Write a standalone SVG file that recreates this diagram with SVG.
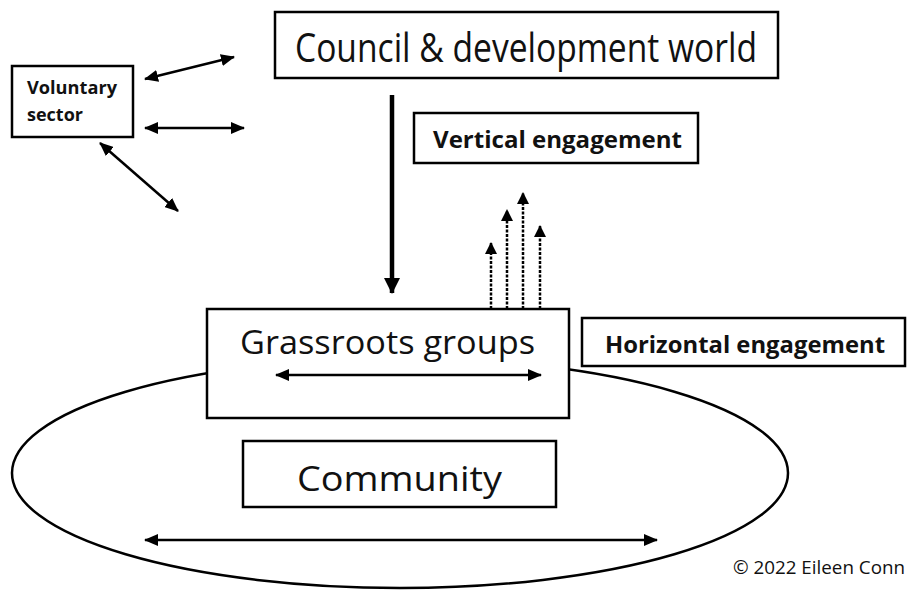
<svg xmlns="http://www.w3.org/2000/svg" width="913" height="590" viewBox="0 0 913 590">
<style>
.box{fill:#fff;stroke:#000;stroke-width:2.5}
.t{font-family:"Open Sans","Liberation Sans",sans-serif;fill:#111}
.b{font-weight:bold}
.arr{fill:none;stroke:#000;stroke-width:2.5}
.dot{fill:none;stroke:#000;stroke-width:2.5;stroke-dasharray:3 1.5}
</style>
<defs>
<marker id="ah" markerUnits="userSpaceOnUse" markerWidth="14" markerHeight="12" refX="13" refY="6" orient="auto-start-reverse" viewBox="0 0 14 12">
<path d="M0,0 L14,6 L0,12 Z" fill="#000"/>
</marker>
<marker id="ahBig" markerUnits="userSpaceOnUse" markerWidth="16" markerHeight="16" refX="15" refY="8" orient="auto" viewBox="0 0 16 16">
<path d="M0,0 L16,8 L0,16 Z" fill="#000"/>
</marker>
<marker id="ahS" markerUnits="userSpaceOnUse" markerWidth="12" markerHeight="12" refX="11" refY="6" orient="auto" viewBox="0 0 12 12">
<path d="M0,0 L12,6 L0,12 Z" fill="#000"/>
</marker>
</defs>

<g id="community-ellipse">
<ellipse cx="400" cy="473" rx="388" ry="115" fill="none" stroke="#000" stroke-width="2.5"/>
</g>

<g id="council">
<rect class="box" x="275" y="12" width="503" height="66"/>
<text class="t" x="295" y="62" font-size="41" textLength="462" lengthAdjust="spacingAndGlyphs">Council &amp; development world</text>
</g>

<g id="voluntary">
<rect class="box" x="12" y="66" width="121" height="71"/>
<text class="t b" x="27" y="94" font-size="17" textLength="90" lengthAdjust="spacingAndGlyphs">Voluntary</text>
<text class="t b" x="27" y="121" font-size="17" textLength="56" lengthAdjust="spacingAndGlyphs">sector</text>
</g>

<g id="vertical">
<rect class="box" x="414" y="113" width="284" height="50"/>
<text class="t b" x="433" y="148" font-size="23" textLength="249" lengthAdjust="spacingAndGlyphs">Vertical engagement</text>
</g>

<g id="grassroots">
<rect class="box" x="207" y="309" width="362" height="109"/>
<text class="t" x="240" y="354" font-size="32" textLength="295" lengthAdjust="spacingAndGlyphs">Grassroots groups</text>
</g>

<g id="horizontal">
<rect class="box" x="582" y="318" width="323" height="48"/>
<text class="t b" x="605" y="353" font-size="23" textLength="280" lengthAdjust="spacingAndGlyphs">Horizontal engagement</text>
</g>

<g id="community">
<rect class="box" x="243" y="441" width="313" height="66"/>
<text class="t" x="297" y="491" font-size="35" textLength="205" lengthAdjust="spacingAndGlyphs">Community</text>
</g>

<g id="copyright">
<text class="t" x="733" y="574" font-size="19" textLength="172" lengthAdjust="spacingAndGlyphs">© 2022 Eileen Conn</text>
</g>

<g id="connectors">
<line class="arr" x1="145" y1="79" x2="234" y2="57" marker-start="url(#ah)" marker-end="url(#ah)"/>
<line class="arr" x1="145" y1="128" x2="244" y2="128" marker-start="url(#ah)" marker-end="url(#ah)"/>
<line class="arr" x1="100" y1="143" x2="178" y2="211" marker-start="url(#ah)" marker-end="url(#ah)"/>
<line x1="392" y1="95" x2="392" y2="293" stroke="#000" stroke-width="4.5" marker-end="url(#ahBig)"/>
<line class="dot" x1="491" y1="309" x2="491" y2="243" marker-end="url(#ahS)"/>
<line class="dot" x1="507" y1="309" x2="507" y2="210" marker-end="url(#ahS)"/>
<line class="dot" x1="523" y1="309" x2="523" y2="193" marker-end="url(#ahS)"/>
<line class="dot" x1="540" y1="309" x2="540" y2="226" marker-end="url(#ahS)"/>
<line class="arr" x1="276" y1="375" x2="541" y2="375" marker-start="url(#ah)" marker-end="url(#ah)"/>
<line class="arr" x1="145" y1="540" x2="657" y2="540" marker-start="url(#ah)" marker-end="url(#ah)"/>
</g>
</svg>
